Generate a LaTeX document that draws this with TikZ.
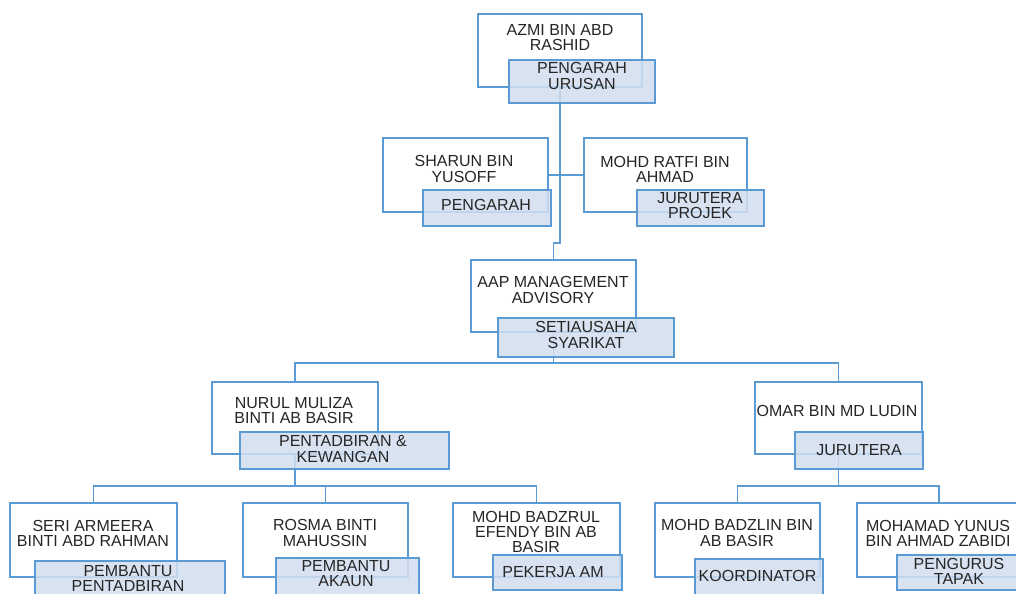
\documentclass[tikz,border=0pt]{standalone}
\usepackage{fontspec}
\setmainfont{Liberation Sans}
\usetikzlibrary{fit}
\definecolor{ob}{HTML}{5B9BD5}
\definecolor{lf}{HTML}{D2DEEF}
\definecolor{tx}{HTML}{262626}
\begin{document}
\begin{tikzpicture}[x=0.75pt,y=-0.75pt,
 pbox/.style={inner sep=0pt, outer sep=0pt, draw=ob, line width=1.1pt, fill=white},
 lbox/.style={inner sep=0pt, outer sep=0pt, draw=ob, line width=1.1pt, fill=lf, fill opacity=0.85},
 ptxt/.style={text=tx, align=center, inner sep=0pt, font=\fontsize{12}{11.3}\selectfont},
 conn/.style={draw=ob, line width=1.1pt}]
\useasboundingbox (0,0) rectangle (1016,593);
\fill[white] (0,0) rectangle (1016,593);
\clip (0,0) rectangle (1016,593);
% person boxes
\node[pbox, fit={(478,14)(642,87)}] (azmi) {};
\node[pbox, fit={(383,138)(548,212)}] (sharun) {};
\node[pbox, fit={(584,138)(747,212)}] (ratfi) {};
\node[pbox, fit={(471,260)(636,332)}] (aap) {};
\node[pbox, fit={(212,382)(378,454)}] (nurul) {};
\node[pbox, fit={(755,382)(922,454)}] (omar) {};
\node[pbox, fit={(10,503)(177,577)}] (seri) {};
\node[pbox, fit={(243,503)(408,577)}] (rosma) {};
\node[pbox, fit={(453,503)(620,577)}] (badzrul) {};
\node[pbox, fit={(655,503)(820,577)}] (badzlin) {};
\node[pbox, fit={(857,503)(1021,577)}] (yunus) {};
% names
\node[ptext/.style={}, ptxt] (azmi-t) at (560,38) {AZMI BIN ABD\\RASHID};
\node[ptxt] (sharun-t) at (464,169) {SHARUN BIN\\YUSOFF};
\node[ptxt] (ratfi-t) at (665,169) {MOHD RATFI BIN\\AHMAD};
\node[ptxt] (aap-t) at (553,290) {AAP MANAGEMENT\\ADVISORY};
\node[ptxt] (nurul-t) at (294,411) {NURUL MULIZA\\BINTI AB BASIR};
\node[ptxt] (omar-t) at (837,411) {OMAR BIN MD LUDIN};
\node[ptxt] (seri-t) at (93,533) {SERI ARMEERA\\BINTI ABD RAHMAN};
\node[ptxt] (rosma-t) at (325,533) {ROSMA BINTI\\MAHUSSIN};
\node[ptxt] (badzrul-t) at (536,532) {MOHD BADZRUL\\EFENDY BIN AB\\BASIR};
\node[ptxt] (badzlin-t) at (737,533) {MOHD BADZLIN BIN\\AB BASIR};
\node[ptxt] (yunus-t) at (938,533) {MOHAMAD YUNUS\\BIN AHMAD ZABIDI};
% connectors
\coordinate (j1) at (560,243);
\coordinate (b1) at (553.5,363);
\coordinate (b2) at (295,486);
\coordinate (b3) at (838.5,486);
\draw[conn] (azmi.south) -- (j1) -| (aap.north);
\draw[conn] (sharun.east) -- (ratfi.west);
\draw[conn] (aap.south) -- (b1);
\draw[conn] (nurul.north) |- (b1) -| (omar.north);
\draw[conn] (nurul.south) -- (b2);
\draw[conn] (seri.north) |- (b2) -| (badzrul.north);
\draw[conn] (rosma.north) |- (b2);
\draw[conn] (omar.south) -- (b3);
\draw[conn] (badzlin.north) |- (b3) -| (yunus.north);
% role boxes
\node[lbox, fit={(509,60)(655,103)}] (azmi-l) {};
\node[lbox, fit={(423,190)(551,226)}] (sharun-l) {};
\node[lbox, fit={(637,190)(764,226)}] (ratfi-l) {};
\node[lbox, fit={(498,318)(674,357)}] (aap-l) {};
\node[lbox, fit={(240,432)(449,469)}] (nurul-l) {};
\node[lbox, fit={(795,432)(923,469)}] (omar-l) {};
\node[lbox, fit={(35,561)(225,600)}] (seri-l) {};
\node[lbox, fit={(276,558)(419,600)}] (rosma-l) {};
\node[lbox, fit={(493,555)(622,590)}] (badzrul-l) {};
\node[lbox, fit={(695,559)(823,600)}] (badzlin-l) {};
\node[lbox, fit={(897,555)(1025,590)}] (yunus-l) {};
% roles
\node[ptxt] (azmi-r) at (582,76) {PENGARAH\\URUSAN};
\node[ptxt] (sharun-r) at (486,205) {PENGARAH};
\node[ptxt] (ratfi-r) at (700,205.5) {JURUTERA\\PROJEK};
\node[ptxt] (aap-r) at (586,335) {SETIAUSAHA\\SYARIKAT};
\node[ptxt] (nurul-r) at (343,449) {PENTADBIRAN \&\\KEWANGAN};
\node[ptxt] (omar-r) at (859,450) {JURUTERA};
\node[ptxt] (seri-r) at (128,578.5) {PEMBANTU\\PENTADBIRAN};
\node[ptxt] (rosma-r) at (346,573.5) {PEMBANTU\\AKAUN};
\node[ptxt] (badzrul-r) at (553,572) {PEKERJA AM};
\node[ptxt] (badzlin-r) at (757.5,576) {KOORDINATOR};
\node[ptxt] (yunus-r) at (959,571.5) {PENGURUS\\TAPAK};
\end{tikzpicture}
\end{document}
